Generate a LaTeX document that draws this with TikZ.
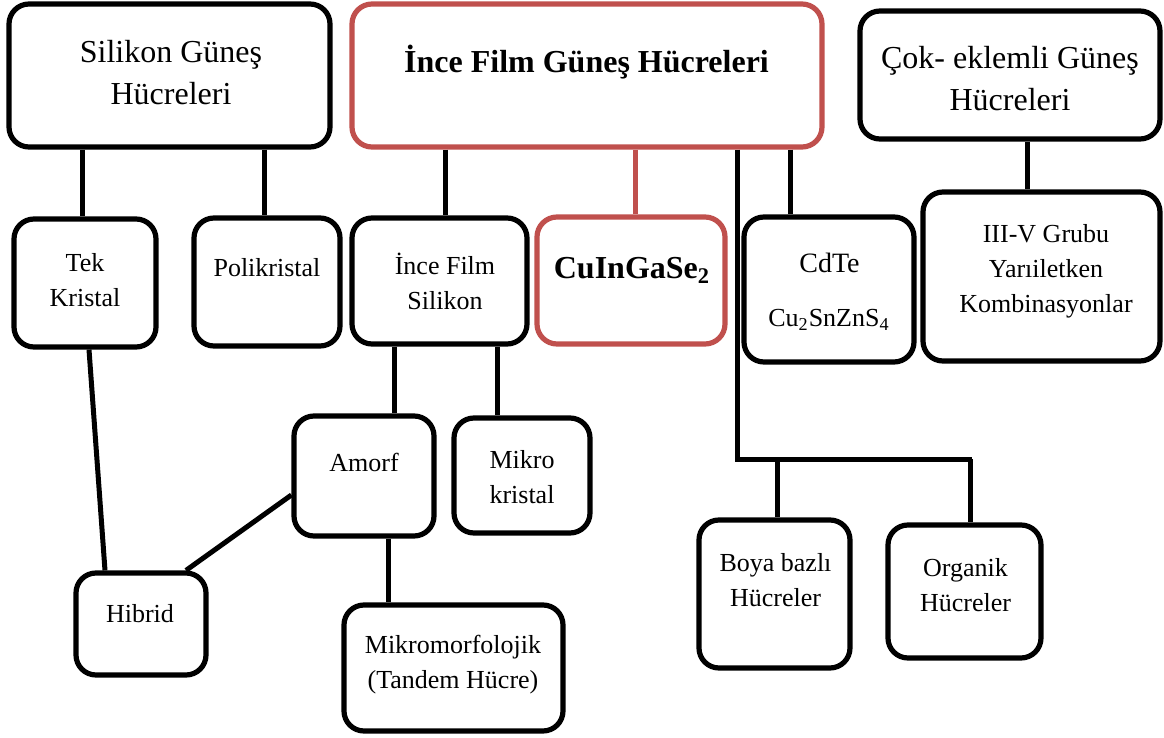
\documentclass[tikz,border=0pt]{standalone}
\usepackage{fontspec}
\setmainfont{Liberation Serif}
\definecolor{cellred}{HTML}{C0504D}
\tikzset{block/.style={draw,line width=2.6pt,rounded corners=10pt,inner sep=0pt},
         redblock/.style={block,draw=cellred},
         dims/.style 2 args={minimum width=#1*0.5pt,minimum height=#2*0.5pt},
         line/.style={line width=2.5pt},
         lbl/.style={align=center,font=\fontsize{13}{17.5}\selectfont},
         head/.style={align=center,font=\fontsize{16}{21}\selectfont}
}

\begin{document}
\begin{tikzpicture}[x=0.5pt,y=-0.5pt]
\useasboundingbox (0,0) rectangle (1164,738);

% top row
\node[block,dims={321}{143}] (sil) at (169.5,75.5) {};
\node[redblock,dims={470}{143}] (ince) at (587,75.5) {};
\node[block,dims={300}{128}] (cok) at (1010,75) {};
\node[head] (silT) at (171,73) {Silikon Güneş\\Hücreleri};
\node[head,font=\fontsize{16}{21}\selectfont\bfseries] (inceT) at (586.5,62) {İnce Film Güneş Hücreleri};
\node[head] (cokT) at (1010,79) {Çok- eklemli Güneş\\Hücreleri};

% second row
\node[block,dims={142}{128}] (tek) at (85,283) {};
\node[block,dims={146}{128}] (poli) at (267,282) {};
\node[block,dims={175}{126}] (ifs) at (439.5,281) {};
\node[redblock,dims={188}{127}] (cigs) at (631,280.5) {};
\node[block,dims={170}{145}] (cdte) at (829,289.5) {};
\node[block,dims={237}{169}] (iiiv) at (1041.5,276.5) {};
\node[lbl] (tekT) at (85,280) {Tek\\Kristal};
\node[lbl] (poliT) at (267,268) {Polikristal};
\node[lbl] (ifsT) at (445,281) {İnce Film\\Silikon};
\node[head,font=\fontsize{16}{21}\selectfont\bfseries] (cigsT) at (632,270) {CuInGaSe\textsubscript{2}};
\node[lbl,font=\fontsize{14}{17}\selectfont] (cdteT) at (829.5,263) {CdTe};
\node[lbl] (cztsT) at (829,320) {Cu\textsubscript{2}SnZnS\textsubscript{4}};
\node[lbl] (iiivT) at (1046,271) {III-V Grubu\\Yarıiletken\\Kombinasyonlar};

% lower rows
\node[block,dims={140}{120}] (amorf) at (364,476) {};
\node[block,dims={136}{115}] (mikro) at (522,475.5) {};
\node[block,dims={130}{102}] (hib) at (141,624) {};
\node[block,dims={219}{126}] (mm) at (453.5,668) {};
\node[block,dims={151}{148}] (boya) at (774.5,594) {};
\node[block,dims={153}{133}] (org) at (964.5,591.5) {};
\node[lbl] (amorfT) at (364,462) {Amorf};
\node[lbl] (mikroT) at (522,477) {Mikro\\kristal};
\node[lbl] (hibT) at (140,614) {Hibrid};
\node[lbl] (mmT) at (453,665) {Mikromorfolojik\\(Tandem Hücre)};
\node[lbl] (boyaT) at (775.5,580) {Boya bazlı\\Hücreler};
\node[lbl] (orgT) at (965.5,585) {Organik\\Hücreler};

% connectors
\coordinate (split) at (737,459);
\draw[line] (sil.south -| 82,0) -- (tek.north -| 82,0);
\draw[line] (sil.south -| 264,0) -- (poli.north -| 264,0);
\draw[line] (ince.south -| 445,0) -- (ifs.north -| 445,0);
\draw[line,draw=cellred] (ince.south -| 635,0) -- (cigs.north -| 635,0);
\draw[line] (ince.south -| 790,0) -- (cdte.north -| 790,0);
\draw[line] (cok.south -| 1027,0) -- (iiiv.north -| 1027,0);
\draw[line] (ince.south -| split) -- (split) -- (split -| 972,0);
\draw[line] (split -| 777,0) -- (boya.north -| 777,0);
\draw[line] (split -| 970,0) -- (org.north -| 970,0);
\draw[line] (tek.south -| 89,0) -- (hib.north -| 105,0);
\draw[line] (ifs.south -| 394,0) -- (amorf.north -| 394,0);
\draw[line] (ifs.south -| 497,0) -- (mikro.north -| 497,0);
\draw[line] (amorf.west |- 0,495) -- (hib.north -| 186,0);
\draw[line] (amorf.south -| 388,0) -- (mm.north -| 388,0);

\end{tikzpicture}
\end{document}
